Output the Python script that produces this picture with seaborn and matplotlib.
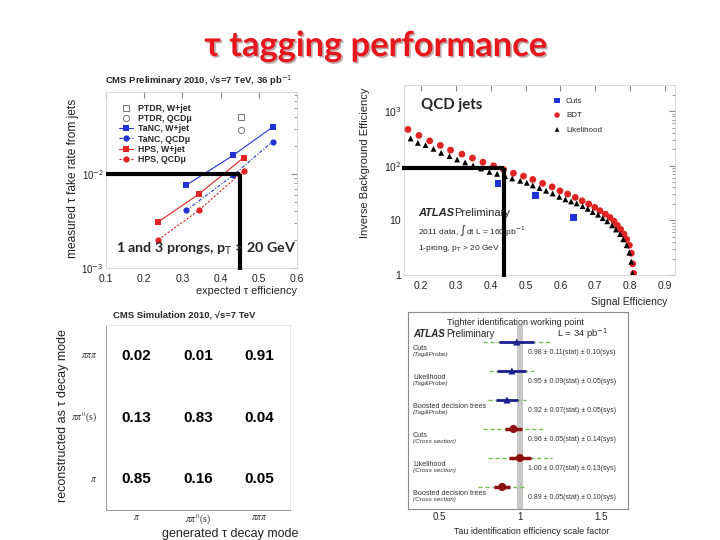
import numpy as np
import pandas as pd
import matplotlib
matplotlib.use("Agg")
import matplotlib.pyplot as plt
import matplotlib.patheffects as pe
from matplotlib.colors import ListedColormap
from matplotlib.ticker import FixedLocator, FixedFormatter, LogLocator, NullFormatter
import seaborn as sns

# ---------------- data ----------------
# CMS: measured fake rate vs expected efficiency
ptdr_wjet_eff = [0.454]
ptdr_wjet_fake = [0.040]
ptdr_qcd_eff = [0.454]
ptdr_qcd_fake = [0.0295]
tanc_wjet_eff = [0.31, 0.433, 0.536]
tanc_wjet_fake = [0.0076, 0.0158, 0.0316]
tanc_qcd_eff = [0.31, 0.433, 0.536]
tanc_qcd_fake = [0.0041, 0.0097, 0.0221]
hps_wjet_eff = [0.237, 0.343, 0.46]
hps_wjet_fake = [0.0031, 0.0061, 0.0149]
hps_qcd_eff = [0.237, 0.343, 0.46]
hps_qcd_fake = [0.0020, 0.0041, 0.0108]
cms_wp_eff = 0.45
cms_wp_fake = 0.01

# ATLAS: inverse background efficiency vs signal efficiency
bdt_eff = [0.1615, 0.193, 0.224, 0.2546, 0.284, 0.3167, 0.347, 0.377, 0.4078, 0.4365,
           0.465, 0.494, 0.5207, 0.549, 0.5764, 0.599, 0.621, 0.643, 0.6627, 0.6817,
           0.699, 0.714, 0.7296, 0.743, 0.7546, 0.764, 0.7736, 0.7833, 0.791, 0.7986,
           0.8043, 0.8082, 0.811]
bdt_inv = [461, 358, 285, 235, 193, 163, 138, 116, 99.6, 85,
           73, 64.5, 56, 47.5, 41, 34.7, 30.3, 26.3, 22.8, 19.9,
           17.3, 15, 13, 11.3, 9.6, 8.1, 6.84, 5.6, 4.5, 3.5,
           2.5, 1.6, 1.07]
llh_eff = [0.169, 0.190, 0.212, 0.235, 0.257, 0.281, 0.303, 0.326, 0.349, 0.372,
           0.396, 0.418, 0.441, 0.4615, 0.4845, 0.5035, 0.5207, 0.54, 0.559, 0.578,
           0.597, 0.6147, 0.631, 0.647, 0.664, 0.679, 0.693, 0.7086, 0.722, 0.735,
           0.749, 0.760, 0.7718, 0.781, 0.7908, 0.7986, 0.8043, 0.808]
llh_inv = [315, 262, 238, 204, 172, 150, 130, 115, 101, 89,
           77, 71, 64.5, 58.5, 53, 48.7, 43.6, 39, 34.8, 31,
           27, 24.2, 22.2, 20.4, 18.2, 16.3, 14.2, 12.7, 11, 9.6,
           8.1, 6.8, 5.6, 4.5, 3.5, 2.56, 1.75, 1.07]
cuts_eff = [0.42, 0.528, 0.638]
cuts_inv = [47.5, 28.5, 11.4]
atlas_wp_eff = 0.437
atlas_wp_inv = 90

# CMS decay mode matrix
gen_modes = [r"$\pi$", r"$\pi\pi^0$(s)", r"$\pi\pi\pi$"]
reco_modes = [r"$\pi\pi\pi$", r"$\pi\pi^0$(s)", r"$\pi$"]
matrix_values = [[0.02, 0.01, 0.91],
                 [0.13, 0.83, 0.04],
                 [0.85, 0.16, 0.05]]

# ATLAS scale factors
sf_methods = ["Cuts", "Likelihood", "Boosted decision trees",
              "Cuts", "Likelihood", "Boosted decision trees"]
sf_kind = ["(Tag&Probe)"] * 3 + ["(Cross section)"] * 3
sf_value = [0.98, 0.95, 0.92, 0.96, 1.00, 0.89]
sf_stat = [0.11, 0.09, 0.07, 0.05, 0.07, 0.05]
sf_sys = [0.10, 0.05, 0.05, 0.14, 0.13, 0.10]

# ---------------- style ----------------
sns.set_style("white")
plt.rcParams["font.family"] = ["Liberation Sans", "DejaVu Sans"]
plt.rcParams["axes.unicode_minus"] = True

W, H = 720, 540
fig = plt.figure(figsize=(7.2, 5.4), dpi=100)
fig.patch.set_facecolor("white")


def rect(l, t, r, b):
    return [l / W, 1 - b / H, (r - l) / W, (b - t) / H]


def fx(px):
    return px / W


def fy(py):
    return 1 - py / H


BLUE = "#2233d6"
RED = "#e02424"
GREY_SP = "#d4d4d4"

# Title
fig.text(fx(376), fy(46), "τ tagging performance", ha="center", va="center",
         fontsize=24.8, fontweight="bold", color="#e8161c", family=["Lato", "DejaVu Sans"],
         path_effects=[pe.withSimplePatchShadow(offset=(1.2, -1.2), alpha=0.35)])

# ---------------- Panel 1: CMS fake rate ----------------
ax1 = fig.add_axes(rect(106, 92, 297, 268))
ax1.set_yscale("log")
series1 = [
    (ptdr_wjet_eff, ptdr_wjet_fake, "PTDR, W+jet", "#777777", "s", "none", True),
    (ptdr_qcd_eff, ptdr_qcd_fake, "PTDR, QCDμ", "#777777", "o", "none", True),
    (tanc_wjet_eff, tanc_wjet_fake, "TaNC, W+jet", BLUE, "s", "-", False),
    (tanc_qcd_eff, tanc_qcd_fake, "TaNC, QCDμ", BLUE, "o", (0, (3, 1.5, 1, 1.5)), False),
    (hps_wjet_eff, hps_wjet_fake, "HPS, W+jet", RED, "s", "-", False),
    (hps_qcd_eff, hps_qcd_fake, "HPS, QCDμ", RED, "o", (0, (2, 1.5)), False),
]
for ex, fy_, lab, col, mk, ls, hollow in series1:
    if hollow:
        sns.lineplot(x=ex, y=fy_, ax=ax1, color=col, marker=mk, linestyle="none",
                     markersize=4.5, markerfacecolor="none", markeredgecolor=col,
                     markeredgewidth=0.7, label=lab)
    else:
        sns.lineplot(x=ex, y=fy_, ax=ax1, color=col, marker=mk, linestyle=ls, lw=0.8,
                     markersize=5 if mk == "s" else 4.5, markeredgewidth=0, label=lab)
ax1.set_xlim(0.1, 0.6)
ax1.set_ylim(1e-3, 0.0745)
ax1.set_xticks([0.1, 0.2, 0.3, 0.4, 0.5, 0.6])
ax1.set_xticklabels(["0.1", "0.2", "0.3", "0.4", "0.5", "0.6"])
ax1.yaxis.set_major_locator(FixedLocator([1e-3, 1e-2]))
ax1.yaxis.set_major_formatter(FixedFormatter([r"10$^{-3}$", r"10$^{-2}$"]))
ax1.yaxis.set_minor_locator(LogLocator(subs=np.arange(2, 10)))
ax1.yaxis.set_minor_formatter(NullFormatter())
ax1.tick_params(which="both", direction="in", color="#888888", labelsize=7.5,
                labelcolor="#222222", right=True, top=True, pad=2)
ax1.tick_params(axis="y", labelsize=7, pad=1.5)
ax1.tick_params(axis="x", pad=4)
ax1.tick_params(which="major", length=4)
ax1.tick_params(which="minor", length=2)
for s in ax1.spines.values():
    s.set_color(GREY_SP)
    s.set_linewidth(0.6)
ax1.set_xlabel("")
ax1.set_ylabel("")
ax1.legend(loc="upper left", bbox_to_anchor=((115 - 106) / 191, 1 - (100 - 92) / 176),
           frameon=False, borderpad=0, handlelength=1.6,
           handletextpad=0.5, labelspacing=0.12, prop={"weight": "bold", "size": 6.3})
# working point lines
ax1.plot([0.1, cms_wp_eff], [cms_wp_fake, cms_wp_fake], color="black", lw=3,
         solid_capstyle="butt", clip_on=False, zorder=10)
ax1.plot([cms_wp_eff, cms_wp_eff], [cms_wp_fake, 0.00095], color="black", lw=3,
         solid_capstyle="butt", clip_on=False, zorder=10)
fig.text(fx(199), fy(81), r"CMS Preliminary 2010, √s=7 TeV, 36 pb$^{-1}$", ha="center",
         va="center", fontsize=6.8, fontweight="bold")
fig.text(fx(73), fy(178), "measured τ fake rate from jets", rotation=90, ha="center",
         va="center", fontsize=8.6, color="#222222")
fig.text(fx(297), fy(291), "expected τ efficiency", ha="right", va="center",
         fontsize=7.8, color="#222222")
fig.text(fx(206), fy(249), r"1 and 3 prongs, p$_\mathrm{T}$ > 20 GeV", ha="center",
         va="center", fontsize=10.3, fontweight="bold", family=["Lato", "DejaVu Sans"],
         zorder=20)

# ---------------- Panel 2: ATLAS rejection ----------------
ax2 = fig.add_axes(rect(404, 85, 675, 275))
ax2.set_yscale("log")
sns.scatterplot(x=bdt_eff, y=bdt_inv, ax=ax2, marker="o", s=24, color=RED,
                edgecolor="none", label="BDT", zorder=3)
sns.scatterplot(x=llh_eff, y=llh_inv, ax=ax2, marker="^", s=18, color="black",
                edgecolor="none", label="Likelihood", zorder=4)
sns.scatterplot(x=cuts_eff, y=cuts_inv, ax=ax2, marker="s", s=22, color=BLUE,
                edgecolor="none", label="Cuts", zorder=5)
ax2.set_xlim(0.15, 0.93)
ax2.set_ylim(1, 3000)
ax2.set_xticks([0.2, 0.3, 0.4, 0.5, 0.6, 0.7, 0.8, 0.9])
ax2.set_xticklabels(["0.2", "0.3", "0.4", "0.5", "0.6", "0.7", "0.8", "0.9"])
ax2.yaxis.set_major_locator(FixedLocator([1, 10, 100, 1000]))
ax2.yaxis.set_major_formatter(FixedFormatter(["1", "10", r"10$^2$", r"10$^3$"]))
ax2.yaxis.set_minor_locator(LogLocator(subs=np.arange(2, 10)))
ax2.yaxis.set_minor_formatter(NullFormatter())
ax2.tick_params(which="both", direction="in", color="#888888", labelsize=7.5,
                labelcolor="#222222", right=True, top=True, pad=2)
ax2.tick_params(axis="x", pad=4)
ax2.tick_params(which="major", length=4)
ax2.tick_params(which="minor", length=2)
for s in ax2.spines.values():
    s.set_color(GREY_SP)
    s.set_linewidth(0.6)
ax2.set_xlabel("")
ax2.set_ylabel("")
h, l = ax2.get_legend_handles_labels()
order = [l.index("Cuts"), l.index("BDT"), l.index("Likelihood")]
ax2.legend([h[i] for i in order], [l[i] for i in order], loc="upper left",
           bbox_to_anchor=((549 - 404) / 271, 1 - (93 - 85) / 190), frameon=False,
           fontsize=5.8, borderpad=0, handlelength=1.0, handletextpad=0.6,
           labelspacing=0.85, markerscale=0.8)
ax2.plot([0.145, atlas_wp_eff], [atlas_wp_inv, atlas_wp_inv], color="black", lw=3,
         solid_capstyle="butt", clip_on=False, zorder=10)
ax2.plot([atlas_wp_eff, atlas_wp_eff], [atlas_wp_inv, 0.93], color="black", lw=3,
         solid_capstyle="butt", clip_on=False, zorder=10)
fig.text(fx(421), fy(105), "QCD jets", ha="left", va="center", fontsize=10.8,
         fontweight="bold", family=["Lato", "DejaVu Sans"])
fig.text(fx(418), fy(213), "ATLAS", ha="left", va="center", fontsize=8,
         fontweight="bold", fontstyle="italic")
fig.text(fx(454), fy(213), "Preliminary", ha="left", va="center", fontsize=8)
fig.text(fx(418), fy(231), r"2011 data, $\int$dt L = 160 pb$^{-1}$", ha="left",
         va="center", fontsize=6)
fig.text(fx(418), fy(248), r"1-prong, p$_\mathrm{T}$ > 20 GeV", ha="left",
         va="center", fontsize=6)
fig.text(fx(365), fy(163), "Inverse Background Efficiency", rotation=90, ha="center",
         va="center", fontsize=8, color="#222222")
fig.text(fx(667), fy(302), "Signal Efficiency", ha="right", va="center",
         fontsize=7.5, color="#222222")

# ---------------- Panel 3: decay mode matrix ----------------
ax3 = fig.add_axes(rect(106, 325, 290, 510))
cm = pd.DataFrame(matrix_values, index=reco_modes, columns=gen_modes)
sns.heatmap(cm, ax=ax3, annot=True, fmt=".2f", cmap=ListedColormap(["white"]),
            cbar=False, annot_kws={"fontsize": 11, "fontweight": "bold", "color": "black"})
ax3.set_xlabel("")
ax3.set_ylabel("")
for s in ax3.spines.values():
    s.set_visible(True)
    s.set_linewidth(0.7)
ax3.spines["left"].set_color("#9a9a9a")
ax3.spines["bottom"].set_color("#9a9a9a")
ax3.spines["top"].set_color("#e6e6e6")
ax3.spines["right"].set_color("#e6e6e6")
ax3.tick_params(which="major", length=0, labelsize=7)
ax3.tick_params(axis="x", which="major", pad=2)
ax3.tick_params(axis="y", which="major", pad=6)
ax3.set_xticks([1, 2], minor=True)
ax3.set_yticks([1, 2], minor=True)
ax3.tick_params(which="minor", direction="in", length=4, color="#999999",
                top=True, right=True, bottom=True, left=True)
for lbl in ax3.get_xticklabels() + ax3.get_yticklabels():
    lbl.set_math_fontfamily("stix")
    lbl.set_fontfamily(["Liberation Serif", "DejaVu Serif"])
    lbl.set_rotation(0)
    lbl.set_color("#333333")
fig.text(fx(184), fy(315), "CMS Simulation 2010, √s=7 TeV", ha="center", va="center",
         fontsize=6.8, fontweight="bold")
fig.text(fx(63), fy(416), "reconstructed as τ decay mode", rotation=90, ha="center",
         va="center", fontsize=9, color="#222222")
fig.text(fx(298), fy(534), "generated τ decay mode", ha="right", va="center",
         fontsize=9, color="#222222")

# ---------------- Panel 4: scale factors ----------------
ax4 = fig.add_axes(rect(408, 312, 628, 509))
rows = np.arange(len(sf_value))
val = np.array(sf_value)
stat = np.array(sf_stat)
tot = stat + np.array(sf_sys)
ax4.axvspan(0.9825, 1.0175, ymin=0, ymax=0.934, color="#c8c8c8", lw=0, zorder=0)
ax4.hlines(rows, val - tot, val + tot, colors="#74bd56", linestyles=(0, (3, 2)),
           lw=1.0, zorder=2)
is_tp = np.array([k == "(Tag&Probe)" for k in sf_kind])
ax4.hlines(rows[is_tp], (val - stat)[is_tp], (val + stat)[is_tp], colors="#1b1f8f",
           lw=2.0, zorder=3)
ax4.hlines(rows[~is_tp], (val - stat)[~is_tp], (val + stat)[~is_tp], colors="#8e1010",
           lw=2.5, zorder=3)
sns.scatterplot(x=val[is_tp], y=rows[is_tp], ax=ax4, marker="^", s=26,
                color="#1b1f8f", edgecolor="none", zorder=4)
sns.scatterplot(x=val[~is_tp], y=rows[~is_tp], ax=ax4, marker="o", s=34,
                color="#8e1010", edgecolor="none", zorder=4)
ax4.set_xlim(0.306, 1.67)
ax4.set_ylim(5.76, -1.034)
ax4.set_yticks([])
ax4.set_xticks([0.5, 1, 1.5])
ax4.set_xticklabels(["0.5", "1", "1.5"])
ax4.tick_params(axis="x", direction="in", length=4, color="#777777", labelsize=7,
                labelcolor="#222222", pad=2)
for s in ax4.spines.values():
    s.set_color("#8a8a8a")
    s.set_linewidth(0.8)
ax4.set_xlabel("")
ax4.set_ylabel("")
for r, m, k, v, st, sy in zip(rows, sf_methods, sf_kind, sf_value, sf_stat, sf_sys):
    ax4.text(0.337, r + 0.22, m, ha="left", va="center", fontsize=5.2, color="#333333")
    ax4.text(0.337, r + 0.44, k, ha="left", va="center", fontsize=4.6,
             fontstyle="italic", color="#333333")
    ax4.text(1.05, r + 0.35, f"{v:.2f} ± {st:.2f}(stat) ± {sy:.2f}(sys)", ha="left",
             va="center", fontsize=5.0, color="#333333")
ax4.text(0.49, 0.949, "Tighter identification working point", transform=ax4.transAxes,
         ha="center", va="center", fontsize=6.5)
ax4.text(0.023, 0.888, "ATLAS", transform=ax4.transAxes, ha="left", va="center",
         fontsize=7.0, fontweight="bold", fontstyle="italic")
ax4.text((446 - 408) / 220, 0.888, "Preliminary", transform=ax4.transAxes, ha="left",
         va="center", fontsize=7.0)
ax4.text((557 - 408) / 220, 0.888, r"L = 34 pb$^{-1}$", transform=ax4.transAxes,
         ha="left", va="center", fontsize=6.8)
fig.text(fx(532), fy(532), "Tau identification efficiency scale factor", ha="center",
         va="center", fontsize=6.4, color="#222222")

fig.savefig("out.png", dpi=100)
